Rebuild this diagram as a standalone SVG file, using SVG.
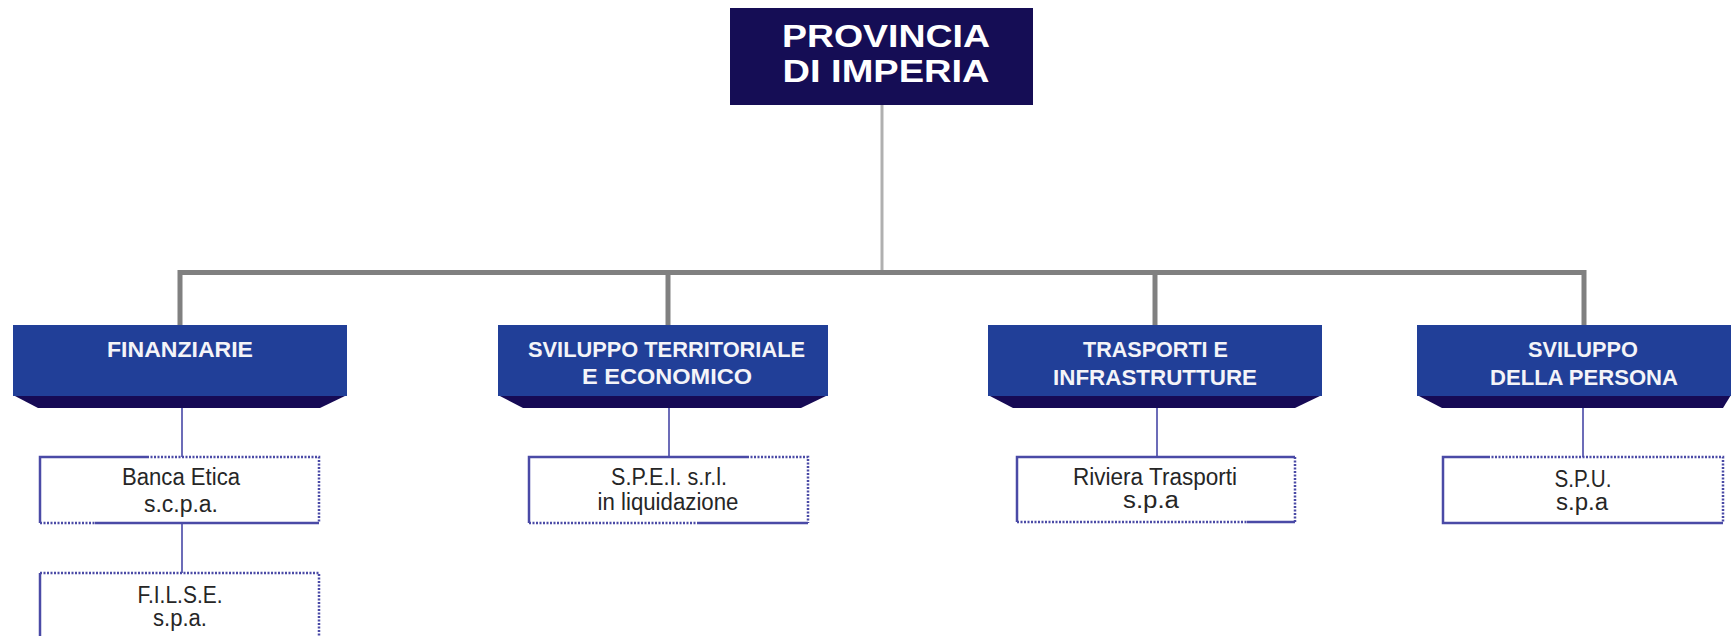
<svg xmlns="http://www.w3.org/2000/svg" width="1733" height="636" viewBox="0 0 1733 636">
<style>
.bg{fill:#ffffff}
.root{fill:#150d55}
.roottxt{font-family:"Liberation Sans",Arial,sans-serif;font-weight:bold;font-size:31px;fill:#ffffff;text-anchor:middle}
.cat{fill:#213f98}
.band{fill:#160a55}
.cattxt{font-family:"Liberation Sans",Arial,sans-serif;font-weight:bold;font-size:22px;fill:#f4f4f8;text-anchor:middle}
.subtxt{font-family:"Liberation Sans",Arial,sans-serif;font-size:23px;fill:#262626;text-anchor:middle}
.solid{stroke:#4a4aa6;stroke-width:2.5;fill:none}
.dot{stroke:#4a4aa6;stroke-width:2.5;fill:none;stroke-dasharray:2 1.5}
.bar{stroke:#808080;stroke-width:5;fill:none}
.stem{stroke:#b0b0b0;stroke-width:3;fill:none}
.link{stroke:#6c6cb8;stroke-width:2;fill:none}
</style>
<rect class="bg" x="0" y="0" width="1733" height="636"/>

<g id="connectors">
  <line class="stem" x1="882" y1="105" x2="882" y2="272"/>
  <polyline class="bar" points="180,325 180,272.5 1584,272.5 1584,325"/>
  <line class="bar" x1="668" y1="272.5" x2="668" y2="325"/>
  <line class="bar" x1="1155" y1="272.5" x2="1155" y2="325"/>
  <line class="link" x1="182" y1="408" x2="182" y2="457"/>
  <line class="link" x1="182" y1="523" x2="182" y2="573"/>
  <line class="link" x1="669" y1="408" x2="669" y2="457"/>
  <line class="link" x1="1157" y1="408" x2="1157" y2="457"/>
  <line class="link" x1="1583" y1="408" x2="1583" y2="457"/>
</g>

<g id="root">
  <rect class="root" x="730" y="8" width="303" height="97"/>
  <text class="roottxt" x="886" y="47" textLength="208" lengthAdjust="spacingAndGlyphs">PROVINCIA</text>
  <text class="roottxt" x="886" y="82" textLength="207" lengthAdjust="spacingAndGlyphs">DI IMPERIA</text>
</g>

<g id="cat-finanziarie">
  <polygon class="band" points="13,395 347,395 320,408 38,408"/>
  <rect class="cat" x="13" y="325" width="334" height="71"/>
  <text class="cattxt" x="180" y="357" textLength="146" lengthAdjust="spacingAndGlyphs">FINANZIARIE</text>
</g>

<g id="cat-sviluppo-territoriale">
  <polygon class="band" points="498,395 828,395 801,408 523,408"/>
  <rect class="cat" x="498" y="325" width="330" height="71"/>
  <text class="cattxt" x="666.5" y="357" textLength="277" lengthAdjust="spacingAndGlyphs">SVILUPPO TERRITORIALE</text>
  <text class="cattxt" x="667" y="384" textLength="170" lengthAdjust="spacingAndGlyphs">E ECONOMICO</text>
</g>

<g id="cat-trasporti">
  <polygon class="band" points="988,395 1322,395 1295,408 1013,408"/>
  <rect class="cat" x="988" y="325" width="334" height="71"/>
  <text class="cattxt" x="1155.5" y="357" textLength="145" lengthAdjust="spacingAndGlyphs">TRASPORTI E</text>
  <text class="cattxt" x="1155" y="385" textLength="204" lengthAdjust="spacingAndGlyphs">INFRASTRUTTURE</text>
</g>

<g id="cat-persona">
  <polygon class="band" points="1417,395 1731,395 1723,408 1442,408"/>
  <rect class="cat" x="1417" y="325" width="314" height="71"/>
  <text class="cattxt" x="1583" y="357" textLength="110" lengthAdjust="spacingAndGlyphs">SVILUPPO</text>
  <text class="cattxt" x="1584" y="385" textLength="188" lengthAdjust="spacingAndGlyphs">DELLA PERSONA</text>
</g>

<g id="banca-etica">
  <path class="solid" d="M147,457 H40 V523 M95,523 H319"/>
  <path class="dot" d="M147,457 H319 V523 M40,523 H95"/>
  <text class="subtxt" x="181" y="485" textLength="118" lengthAdjust="spacingAndGlyphs">Banca Etica</text>
  <text class="subtxt" x="181" y="512" textLength="74" lengthAdjust="spacingAndGlyphs">s.c.p.a.</text>
</g>

<g id="filse">
  <path class="solid" d="M40,573 V640"/>
  <path class="dot" d="M40,573 H319 V640"/>
  <text class="subtxt" x="180" y="603" textLength="85" lengthAdjust="spacingAndGlyphs">F.I.L.S.E.</text>
  <text class="subtxt" x="180" y="626" textLength="54" lengthAdjust="spacingAndGlyphs">s.p.a.</text>
</g>

<g id="spei">
  <path class="solid" d="M747,457 H529 V523 M698,523 H808"/>
  <path class="dot" d="M747,457 H808 V523 M529,523 H698"/>
  <text class="subtxt" x="669" y="485" textLength="116" lengthAdjust="spacingAndGlyphs">S.P.E.I. s.r.l.</text>
  <text class="subtxt" x="668" y="510" textLength="141" lengthAdjust="spacingAndGlyphs">in liquidazione</text>
</g>

<g id="riviera">
  <path class="solid" d="M1295,457 H1017 V522 M1247,522 H1295"/>
  <path class="dot" d="M1295,457 V522 M1017,522 H1247"/>
  <text class="subtxt" x="1155" y="485" textLength="164" lengthAdjust="spacingAndGlyphs">Riviera Trasporti</text>
  <text class="subtxt" x="1151" y="508" textLength="56" lengthAdjust="spacingAndGlyphs">s.p.a</text>
</g>

<g id="spu">
  <path class="solid" d="M1488,457 H1443 V523 H1723"/>
  <path class="dot" d="M1488,457 H1723 V523"/>
  <text class="subtxt" x="1583" y="487" textLength="57" lengthAdjust="spacingAndGlyphs">S.P.U.</text>
  <text class="subtxt" x="1582" y="510" textLength="52" lengthAdjust="spacingAndGlyphs">s.p.a</text>
</g>
</svg>
